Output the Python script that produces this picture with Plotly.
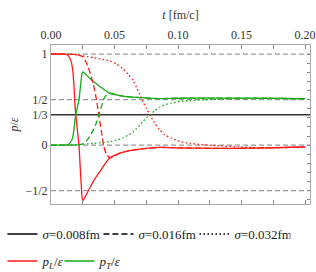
import plotly.graph_objects as go

# ---- data ----
t_s1 = [0.0, 0.010, 0.013, 0.0147, 0.0169, 0.018, 0.019, 0.0205, 0.022, 0.0234, 0.0245, 0.0250,
        0.0265, 0.0305, 0.0345, 0.0384, 0.046, 0.0542, 0.062, 0.070, 0.0857, 0.10, 0.13, 0.16, 0.20]
pL_s1 = [1.0, 1.0, 0.99, 0.96, 0.85, 0.67, 0.42, 0.20, 0.0, -0.34, -0.58, -0.61,
         -0.58, -0.47, -0.37, -0.29, -0.143, -0.088, -0.06, -0.044, -0.025, -0.03, -0.035, -0.033, -0.02]
pT_s1 = [0.0, 0.0, 0.005, 0.02, 0.075, 0.165, 0.29, 0.40, 0.50, 0.67, 0.79, 0.805,
         0.79, 0.735, 0.685, 0.645, 0.572, 0.544, 0.53, 0.522, 0.512, 0.515, 0.517, 0.516, 0.51]

t_s2 = [0.0, 0.015, 0.020, 0.0252, 0.0292, 0.0331, 0.0358, 0.0376, 0.0397, 0.0416, 0.0437, 0.0468,
        0.0542, 0.062, 0.070, 0.0857, 0.10, 0.13, 0.16, 0.20]
pL_s2 = [1.0, 1.0, 0.995, 0.97, 0.86, 0.68, 0.50, 0.333, 0.15, -0.015, -0.10, -0.14,
         -0.088, -0.06, -0.044, -0.025, -0.03, -0.035, -0.033, -0.02]
pT_s2 = [0.0, 0.0, 0.003, 0.015, 0.07, 0.16, 0.25, 0.333, 0.425, 0.508, 0.55, 0.57,
         0.544, 0.53, 0.522, 0.512, 0.515, 0.517, 0.516, 0.51]

t_s3 = [0.0, 0.010, 0.016, 0.0226, 0.033, 0.0397, 0.0463, 0.0516, 0.0568, 0.0607, 0.0647, 0.0673,
        0.0699, 0.0726, 0.0752, 0.0778, 0.0818, 0.0857, 0.0897, 0.0949, 0.1015, 0.1094, 0.116,
        0.13, 0.15, 0.17, 0.20]
pL_s3 = [1.0, 1.0, 0.997, 0.985, 0.962, 0.945, 0.925, 0.89, 0.836, 0.78, 0.71, 0.635,
         0.56, 0.47, 0.40, 0.333, 0.24, 0.167, 0.113, 0.077, 0.04, 0.02, 0.01,
         -0.005, -0.02, -0.03, -0.02]
pT_s3 = [0.0, 0.0, 0.002, 0.008, 0.019, 0.028, 0.038, 0.055, 0.082, 0.11, 0.145, 0.183,
         0.22, 0.265, 0.30, 0.333, 0.38, 0.417, 0.444, 0.462, 0.48, 0.49, 0.495,
         0.503, 0.51, 0.515, 0.51]

ref_dashed = [1.0, 0.5, 0.0, -0.5]
ref_solid = [1.0 / 3.0]

x_ticks = [0.0, 0.05, 0.10, 0.15, 0.20]
x_ticktext = ["0.00", "0.05", "0.10", "0.15", "0.20"]
y_ticks = [1.0, 0.5, 1.0 / 3.0, 0.0, -0.5]
y_ticktext = ["1", "1/2", "1/3", "0", "\u22121/2"]

sigma_labels = ["<i>\u03c3</i>=0.008fm", "<i>\u03c3</i>=0.016fm", "<i>\u03c3</i>=0.032fm"]
comp_labels = ["<i>p<sub>L</sub></i>/<i>\u03b5</i>", "<i>p<sub>T</sub></i>/<i>\u03b5</i>"]

RED = "#ff1a1a"
GREEN = "#1aaa1a"
FONT = "Liberation Serif, DejaVu Serif, serif"
dashes = ["solid", "6px,3px", "1.6px,2.4px"]

fig = go.Figure()

series = [(t_s1, pL_s1, pT_s1), (t_s2, pL_s2, pT_s2), (t_s3, pL_s3, pT_s3)]
for (t, pl, pt), d in zip(series, dashes):
    fig.add_trace(go.Scatter(x=t, y=pl, mode="lines", line=dict(color=RED, width=1.3, dash=d, shape="spline", smoothing=0.6),
                             showlegend=False, hoverinfo="skip"))
    fig.add_trace(go.Scatter(x=t, y=pt, mode="lines", line=dict(color=GREEN, width=1.3, dash=d, shape="spline", smoothing=0.6),
                             showlegend=False, hoverinfo="skip"))

for y in ref_dashed:
    fig.add_hline(y=y, line=dict(color="#9a9a9a", width=1.2, dash="5px,3px"), layer="below")
for y in ref_solid:
    fig.add_hline(y=y, line=dict(color="#333333", width=1.6), layer="below")

# legend entries
for lab, d in zip(sigma_labels, dashes):
    fig.add_trace(go.Scatter(x=[None], y=[None], mode="lines", name=lab,
                             line=dict(color="black", width=1.5, dash=d), legend="legend"))
for lab, c in zip(comp_labels, [RED, GREEN]):
    fig.add_trace(go.Scatter(x=[None], y=[None], mode="lines", name=lab,
                             line=dict(color=c, width=1.5), legend="legend2"))
# transparent spacer entry so the last visible legend label is not clipped
fig.add_trace(go.Scatter(x=[None], y=[None], mode="lines", name="\u00a0",
                         line=dict(color="rgba(0,0,0,0)", width=0), legend="legend2"))

# dummy trace for right-side minor tick axis
fig.add_trace(go.Scatter(x=[None], y=[None], yaxis="y2", showlegend=False, hoverinfo="skip"))

fig.update_layout(
    width=316, height=272,
    margin=dict(l=51, r=6, t=45, b=68, autoexpand=False),
    paper_bgcolor="white", plot_bgcolor="white",
    font=dict(family=FONT, size=12, color="#333333"),
    xaxis=dict(
        side="top", range=[0, 0.2039], tickvals=x_ticks, ticktext=x_ticktext,
        ticks="inside", ticklen=4, tickcolor="#888888", tickwidth=1,
        minor=dict(dtick=0.025, tick0=0, ticks="inside", ticklen=4, tickcolor="#888888"),
        showline=True, linecolor="#aaaaaa", linewidth=1.2, mirror="ticks",
        showgrid=False, zeroline=False, automargin=False,
        title=dict(text="<i>t</i> [fm/c]", standoff=5, font=dict(size=12)),
        tickfont=dict(size=12),
    ),
    yaxis=dict(
        range=[-0.646, 1.10], tickvals=y_ticks, ticktext=y_ticktext,
        ticks="", showline=True, linecolor="#aaaaaa", linewidth=1.2, mirror=True,
        showgrid=False, zeroline=False, automargin=False,
        title=dict(text="<i>p</i>/<i>\u03b5</i>", standoff=4, font=dict(size=12)),
        tickfont=dict(size=12),
    ),
    yaxis2=dict(
        overlaying="y", side="right", range=[-0.646, 1.10], tick0=0, dtick=0.1,
        ticks="inside", ticklen=3, tickcolor="#888888", showticklabels=False,
        showline=False, showgrid=False, zeroline=False, automargin=False,
    ),
    legend=dict(orientation="h", x=-0.1875, xanchor="left", y=-0.1886, yanchor="middle",
                entrywidth=51, entrywidthmode="pixels", font=dict(size=13, color="#222222"),
                bgcolor="rgba(0,0,0,0)", itemwidth=30, tracegroupgap=0),
    legend2=dict(orientation="h", x=-0.1875, xanchor="left", y=-0.3585, yanchor="middle",
                 entrywidth=12, entrywidthmode="pixels", font=dict(size=13, color="#222222"),
                 bgcolor="rgba(0,0,0,0)", itemwidth=30),
    showlegend=True,
)

fig.write_html("out.html", config={"displayModeBar": False},
               post_script="document.body.style.margin='0';")
